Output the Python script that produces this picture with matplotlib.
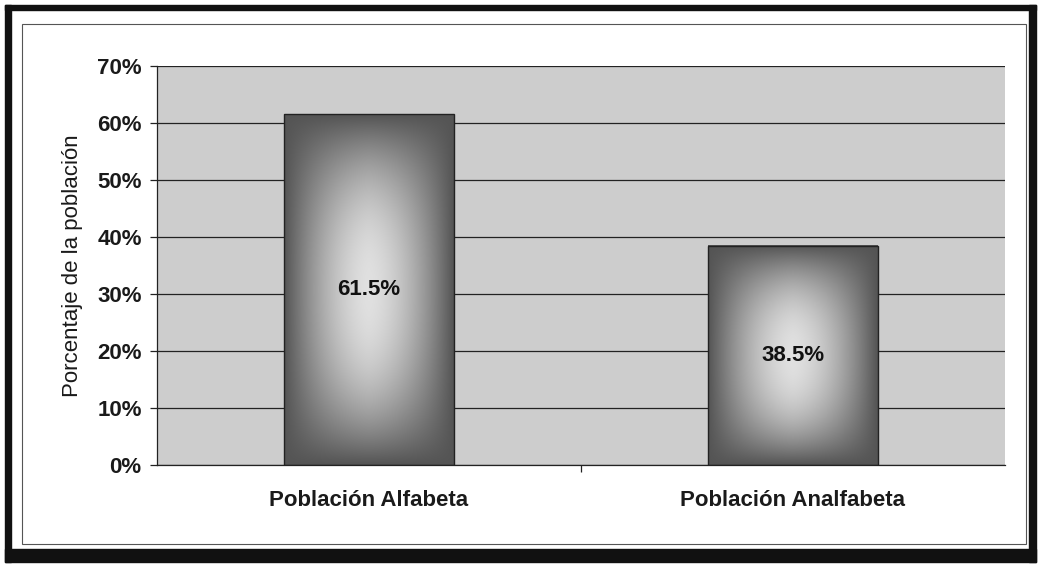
import numpy as np
import matplotlib
matplotlib.use("Agg")
import matplotlib.pyplot as plt
from matplotlib.patches import Rectangle
from matplotlib.ticker import PercentFormatter, FixedLocator

categories = ["Población Alfabeta", "Población Analfabeta"]
values = [61.5, 38.5]
value_labels = ["61.5%", "38.5%"]
yticks = [0, 10, 20, 30, 40, 50, 60, 70]

plt.rcParams['font.family'] = ['Liberation Sans', 'DejaVu Sans']

W, H = 1038, 566
fig = plt.figure(figsize=(W/100, H/100), dpi=100)
fig.patch.set_facecolor('white')

def px(x0, y0, x1, y1):
    return (x0/W, 1 - y1/H, (x1-x0)/W, (y1-y0)/H)

for (x0, y0, x1, y1) in [(5, 5, 1036, 10), (5, 5, 11, 562), (1029, 5, 1036, 562), (5, 549, 1036, 562)]:
    l, b, w, h = px(x0, y0, x1, y1)
    fig.patches.append(Rectangle((l, b), w, h, transform=fig.transFigure, color='#111111', zorder=0))
l, b, w, h = px(22, 24, 1026, 544)
fig.patches.append(Rectangle((l, b), w, h, transform=fig.transFigure, facecolor='none',
                             edgecolor='#555555', lw=0.8, zorder=1))

ax = fig.add_axes([157/W, 1-465/H, (1005-157)/W, (465-66)/H])
ax.set_facecolor('#cdcdcd')
ax.set_xlim(0, 2)
ax.set_ylim(0, 70)

ax.yaxis.set_major_locator(FixedLocator(yticks))
ax.yaxis.set_major_formatter(PercentFormatter(decimals=0))
ax.grid(axis='y', color='#222222', lw=0.9, zorder=1)
ax.set_axisbelow(True)

xpos = np.arange(len(categories)) + 0.5
width = 0.4

# soft "from centre" gradient for bars
n = 200
u = np.linspace(-1, 1, n)
U, V = np.meshgrid(u, u)
t = 1 - (1 - np.abs(U)**1.6) * (1 - np.abs(V)**2.2)
t = np.clip(t, 0, 1)
edge = np.array([0.33, 0.33, 0.33])
center = np.array([0.88, 0.88, 0.88])
img = center[None, None, :] * (1 - t[..., None]) + edge[None, None, :] * t[..., None]

for x, v, lab in zip(xpos, values, value_labels):
    ax.imshow(img, extent=(x - width/2, x + width/2, 0, v), aspect='auto', zorder=2, interpolation='bilinear')
    ax.add_patch(Rectangle((x - width/2, 0), width, v, facecolor='none', edgecolor='#222222', lw=1.0, zorder=3))
    ax.text(x, v/2, lab, ha='center', va='center', fontsize=16, fontweight='bold', color='#111111', zorder=4)

ax.set_xticks([1.0])
ax.set_xticklabels([''])
ax.tick_params(axis='x', length=5, width=0.9, color='#222222')
ax.tick_params(axis='y', length=5, width=0.9, color='#222222', labelsize=16, pad=6)
for lab in ax.get_yticklabels():
    lab.set_fontweight('bold')
    lab.set_color('#1a1a1a')

for x, c in zip(xpos, categories):
    ax.text(x, -4.3, c, ha='center', va='top', fontsize=16, fontweight='bold',
            color='#1a1a1a', transform=ax.transData)

ax.set_ylabel('Porcentaje de la población', fontsize=16, color='#1a1a1a', labelpad=10)

for s in ['top', 'right']:
    ax.spines[s].set_visible(False)
ax.spines['left'].set_color('#222222')
ax.spines['bottom'].set_color('#222222')
ax.spines['left'].set_linewidth(0.9)
ax.spines['bottom'].set_linewidth(0.9)

fig.savefig('out.png', dpi=100)
